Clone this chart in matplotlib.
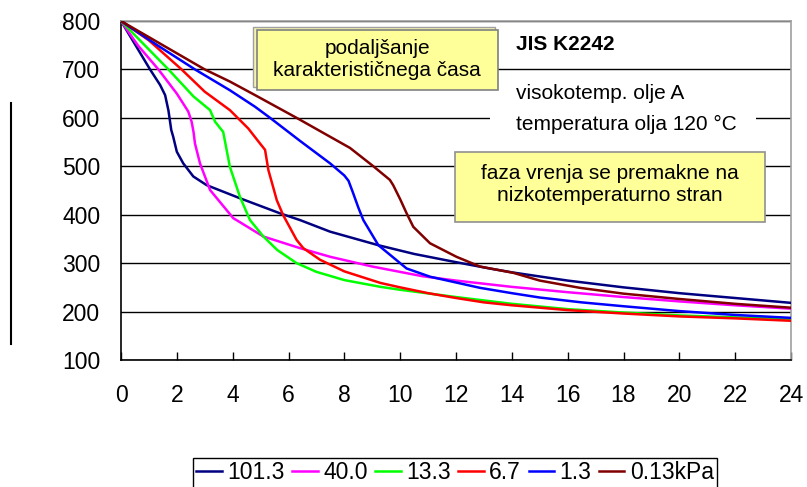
import matplotlib
matplotlib.use('Agg')
import matplotlib.pyplot as plt
from matplotlib.patches import Rectangle
from matplotlib.lines import Line2D

plt.rcParams['font.family'] = ['Liberation Sans', 'DejaVu Sans']

# cooling curves, time (s) vs temperature (°C)
t_101 = [0, 0.5, 1.04, 1.4, 1.58, 1.7, 1.8, 1.87, 2.0, 2.23, 2.59, 3.07, 4.26, 5.69, 6.41, 7.49, 9.22, 10.5, 12.0, 13.2, 14.0, 16.0, 18.0, 20.0, 22.0, 24.0]
T_101 = [800, 752, 700, 668, 647, 615, 575, 561, 530, 506, 479, 461, 434, 403, 389, 365, 337, 319, 302, 289, 281, 264, 250, 238, 228, 218]

t_40 = [0, 0.6, 1.34, 2.0, 2.41, 2.53, 2.6, 2.65, 2.83, 3.19, 4.02, 5.1, 6.41, 7.5, 9.0, 10.8, 12.0, 14.0, 16.0, 18.0, 20.0, 22.0, 24.0]
T_40 = [800, 750, 700, 650, 613, 592, 570, 547, 506, 451, 393, 355, 331, 313, 293, 273, 264, 251, 240, 230, 221, 213, 206]

t_13 = [0, 0.9, 1.7, 2.6, 3.19, 3.37, 3.66, 3.78, 3.9, 4.26, 4.62, 5.1, 5.6, 6.29, 7.0, 8.0, 9.3, 10.0, 12.0, 14.0, 16.0, 18.0, 20.0, 22.0, 24.0]
T_13 = [800, 747, 700, 644, 616, 592, 571, 535, 499, 437, 389, 355, 327, 300, 282, 265, 251, 245, 230, 216, 205, 198, 192, 188, 184]

t_67 = [0, 1.0, 2.17, 3.0, 3.9, 4.56, 4.98, 5.16, 5.28, 5.46, 5.58, 5.81, 6.29, 6.53, 7.13, 8.0, 9.3, 10.0, 11.0, 12.0, 13.0, 14.0, 16.0, 18.0, 20.0, 22.0, 24.0]
T_67 = [800, 760, 700, 654, 616, 578, 547, 534, 492, 455, 430, 399, 348, 331, 307, 283, 259, 250, 238, 228, 219, 213, 203, 196, 190, 186, 181]

t_13b = [0, 1.3, 2.65, 3.9, 4.8, 5.34, 6.4, 7.49, 8.0, 8.15, 8.3, 8.5, 8.68, 9.22, 10.23, 11.07, 12.86, 14.0, 15.0, 16.5, 18.0, 20.0, 22.0, 24.0]
T_13b = [800, 750, 700, 657, 623, 600, 553, 506, 481, 470, 447, 415, 389, 337, 289, 272, 249, 238, 229, 219, 211, 201, 193, 187]

t_013 = [0, 3.0, 3.9, 4.8, 6.29, 7.49, 8.2, 9.04, 9.63, 9.75, 10.0, 10.23, 10.47, 11.07, 12.02, 12.86, 14.05, 15.0, 16.44, 18.0, 20.0, 22.0, 24.0]
T_013 = [800, 700, 675, 647, 600, 561, 538, 500, 472, 461, 432, 403, 375, 341, 313, 293, 280, 264, 249, 237, 226, 216, 208]

labels = ['101.3', '40.0', '13.3', '6.7', '1.3', '0.13kPa']
colors = ['#000080', '#ff00ff', '#00ff00', '#ff0000', '#0000ff', '#800000']
series = [(t_101, T_101), (t_40, T_40), (t_13, T_13), (t_67, T_67), (t_13b, T_13b), (t_013, T_013)]

fig = plt.figure(figsize=(8.07, 4.87), dpi=100)
ax = fig.add_axes([121/807, 1-360/487, 670/807, 339/487])

handles = []
for (x, y), c, lab in zip(series, colors, labels):
    h, = ax.plot(x, y, color=c, lw=1.8, label=lab, zorder=3)
    handles.append(h)

ax.set_xlim(0, 24)
ax.set_ylim(100, 800)
ax.set_xticks(range(0, 25, 2))
ax.set_yticks(range(100, 801, 100))
ax.grid(axis='y', color='black', lw=1.0, zorder=1)
ax.tick_params(axis='x', direction='in', length=6, width=1, labelsize=16.5, pad=17)
ax.tick_params(axis='y', length=0, labelsize=16.5, pad=15)
for s in ['left', 'bottom']:
    ax.spines[s].set_color('black')
    ax.spines[s].set_linewidth(1.2)
for s in ['top', 'right']:
    ax.spines[s].set_color('#a0a0a0')
    ax.spines[s].set_linewidth(1.2)

# annotation boxes
ax.add_patch(Rectangle((4.73, 663.7), 8.67, 123.9, facecolor='#f4f4b0', edgecolor='#a0a0a0', lw=1, zorder=5))
ax.add_patch(Rectangle((4.87, 657.5), 8.63, 123.9, facecolor='#ffff99', edgecolor='#808080', lw=1.2, zorder=5))
ax.text(9.18, 720, 'podaljšanje\nkarakterističnega časa', ha='center', va='center', fontsize=15, zorder=6)

ax.add_patch(Rectangle((13.22, 533.6), 9.53, 159, facecolor='white', edgecolor='none', zorder=4))
ax.text(14.15, 752.5, 'JIS K2242', fontsize=15, fontweight='bold', va='center', zorder=6)
ax.text(14.15, 651, 'visokotemp. olje A', fontsize=15, va='center', zorder=6)
ax.text(14.15, 587, 'temperatura olja 120 °C', fontsize=15, va='center', zorder=6)

ax.add_patch(Rectangle((11.96, 385), 11.11, 144.5, facecolor='#ffff99', edgecolor='#909090', lw=1.2, zorder=5))
ax.text(17.51, 462, 'faza vrenja se premakne na\nnizkotemperaturno stran', ha='center', va='center', fontsize=15, zorder=6)

fig.add_artist(Line2D([11/807, 11/807], [1-103/487, 1-344/487], color='black', lw=1.5))

fig.legend(handles=handles, loc='upper left', bbox_to_anchor=(193/807, 1-458/487), ncol=6,
           fontsize=16.5, frameon=True, fancybox=False, edgecolor='black', framealpha=1,
           handlelength=1.1, handletextpad=0.25, columnspacing=0.33, borderpad=0.15, borderaxespad=0)

fig.savefig('out.png', dpi=100)
